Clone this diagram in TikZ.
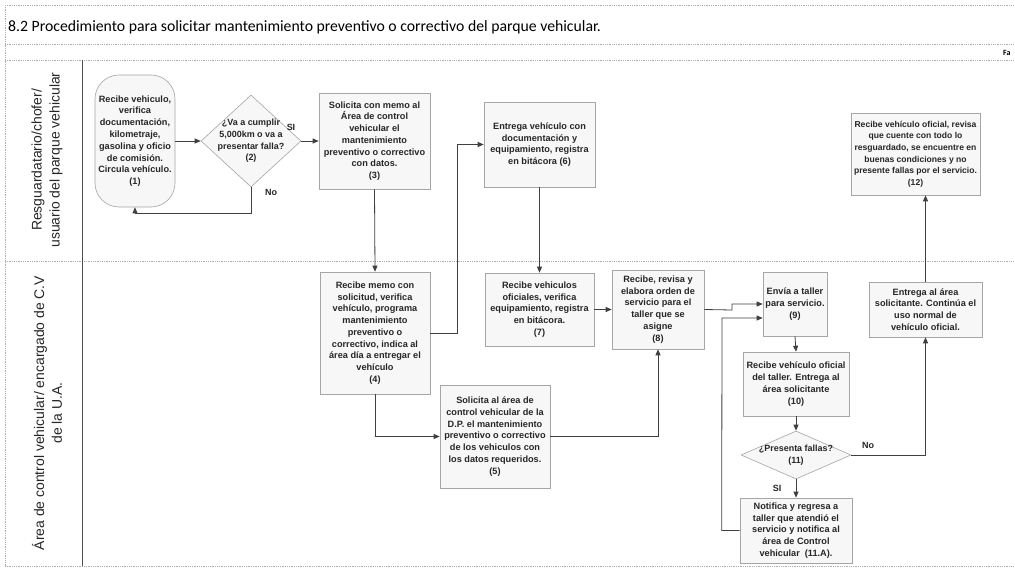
\documentclass[tikz,border=0pt]{standalone}
\usepackage{fontspec}
\setmainfont{Liberation Sans}
\newfontfamily\titlefont{Carlito}
\usetikzlibrary{arrows.meta,shapes.geometric}
\begin{document}
\begin{tikzpicture}[x=1bp,y=-1bp,
  frame/.style={draw=gray!65, line width=0.8bp, densely dotted},
  divider/.style={draw=black!70, line width=0.9bp},
  box/.style={draw=gray!70, fill=gray!6, line width=0.6bp, align=center, inner sep=0pt,
    font=\fontsize{9.2}{11.8}\selectfont\bfseries, text=black!85},
  dtext/.style={align=center, inner sep=0pt, font=\fontsize{9}{11.7}\selectfont\bfseries, text=black!85},
  dec/.style={diamond, draw=gray!70, fill=gray!6, line width=0.6bp, inner sep=0pt},
  lane/.style={rotate=90, align=center, font=\fontsize{14}{18}\selectfont, text=black!85},
  lbl/.style={font=\fontsize{9}{11}\selectfont\bfseries, text=black!85, inner sep=0pt},
  conn/.style={draw=black!75, line width=0.8bp},
  arr/.style={conn, -{Triangle[length=6bp,width=5bp]}}
]
\useasboundingbox (0,0) rectangle (1015,571);
\fill[white] (0,0) rectangle (1015,571);
% frame
\draw[frame] (5,5) -- (1015,5);
\draw[frame] (5,44) -- (1015,44);
\draw[frame] (5,60) -- (1015,60);
\draw[frame] (5,261) -- (1015,261);
\draw[frame] (5,566) -- (1015,566);
\draw[frame] (5,5) -- (5,566);
\draw[divider] (82,60) -- (82,566);
% title
\node[anchor=west, inner sep=0pt, font=\titlefont\fontsize{15.8}{18}\selectfont] (title) at (8,27)
  {8.2 Procedimiento para solicitar mantenimiento preventivo o correctivo del parque vehicular.};
\node[anchor=west, inner sep=0pt, font=\titlefont\bfseries\fontsize{8}{9}\selectfont] (fa) at (1003,53) {Fa};
% lane labels
\node[lane] (lane1) at (47,160) {Resguardatario/chofer/\\usuario del parque vehicular};
\node[lane] (lane2) at (47,413) {Área de control vehicular/ encargado de C.V\\de la U.A.};
% nodes lane 1
\node[box, rounded corners=24bp, minimum width=80bp, minimum height=132bp] (n1) at (135,141)
  {Recibe vehiculo,\\verifica\\documentación,\\kilometraje,\\gasolina y oficio\\de comisión.\\Circula vehículo.\\(1)};
\node[dec, minimum width=100bp, minimum height=92bp] (n2) at (251,141) {};
\node[dtext] (n2t) at (251,141) {¿Va a cumplir\\5,000km o va a\\presentar falla?\\(2)};
\node[box, minimum width=111bp, minimum height=96bp] (n3) at (374.5,141)
  {Solicita con memo al\\Área de control\\vehicular el\\mantenimiento\\preventivo o correctivo\\con datos.\\(3)};
\node[box, minimum width=111bp, minimum height=85bp] (n6) at (539.5,144.5)
  {Entrega vehículo con\\documentación y\\equipamiento, registra\\en bitácora (6)};
\node[box, minimum width=129bp, minimum height=82bp, font=\fontsize{8.6}{11.6}\selectfont\bfseries] (n12) at (915.5,154)
  {Recibe vehículo oficial, revisa\\que cuente con todo lo\\resguardado, se encuentre en\\buenas condiciones y no\\presente fallas por el servicio.\\(12)};
% nodes lane 2
\node[box, minimum width=110bp, minimum height=122bp] (n4) at (375,333)
  {Recibe memo con\\solicitud, verifica\\vehículo, programa\\mantenimiento\\preventivo o\\correctivo, indica al\\área día a entregar el\\vehículo\\(4)};
\node[box, minimum width=109bp, minimum height=73bp] (n7) at (539.5,309.5)
  {Recibe vehiculos\\oficiales, verifica\\equipamiento, registra\\en bitácora.\\(7)};
\node[box, minimum width=92bp, minimum height=79bp] (n8) at (658,309.5)
  {Recibe, revisa y\\elabora orden de\\servicio para el\\taller que se\\asigne\\(8)};
\node[box, minimum width=110bp, minimum height=103bp] (n5) at (495,436.5)
  {Solicita al área de\\control vehicular de la\\D.P. el mantenimiento\\preventivo o correctivo\\de los vehiculos con\\los datos requeridos.\\(5)};
\node[box, minimum width=64bp, minimum height=64bp] (n9) at (795,304)
  {Envía a taller\\para servicio.\\(9)};
\node[box, minimum width=106bp, minimum height=64bp] (n10) at (796,384)
  {Recibe vehículo oficial\\del taller. Entrega al\\área solicitante\\(10)};
\node[dec, minimum width=110bp, minimum height=48bp] (n11) at (796,455) {};
\node[dtext] (n11t) at (796,455) {¿Presenta fallas?\\(11)};
\node[box, minimum width=112bp, minimum height=65bp] (n11a) at (796,530.5)
  {Notifica y regresa a\\taller que atendió el\\servicio y notifica al\\área de Control\\vehicular\ \ (11.A).};
\node[box, minimum width=113bp, minimum height=55bp] (n13) at (925.5,309.5)
  {Entrega al área\\solicitante. Continúa el\\uso normal de\\vehículo oficial.};
% connectors
\draw[arr] (n1.east) -- (n2.west);
\draw[arr] (n2.east) -- (n3.west);
\node[lbl] (si1) at (291,127) {SI};
\draw[arr] (n2.south) -- ++(0,26) -| (n1.south);
\node[lbl] (no1) at (271,192) {No};
\draw[arr] (n3.south) -- (n4.north);
\draw[arr] (n4.east) -- ++(27,0) |- (n6.west);
\draw[arr] (n6.south) -- (n7.north);
\draw[arr] (n7.east) -- (n8.west);
\draw[arr] (n4.south) |- (n5.west);
\draw[arr] (n5.east) -| (n8.south);
\coordinate (j1) at (732,310);
\draw[arr] (n8.east) -- (j1) -- ++(0,-6) -- (n9.west);
\coordinate (j2) at (722,318);
\draw[arr] (n11a.west) -- ++(-18,0) -- (j2) -- (j2 -| n9.west);
\draw[arr] (n9.south) -- (n10.north);
\draw[arr] (n10.south) -- (n11.north);
\draw[arr] (n11.south) -- (n11a.north);
\node[lbl] (si2) at (777,488) {SI};
\draw[arr] (n11.east) -| (n13.south);
\node[lbl] (no2) at (868,445) {No};
\draw[arr] (n13.north) -- (n12.south -| n13.north);
\end{tikzpicture}
\end{document}
